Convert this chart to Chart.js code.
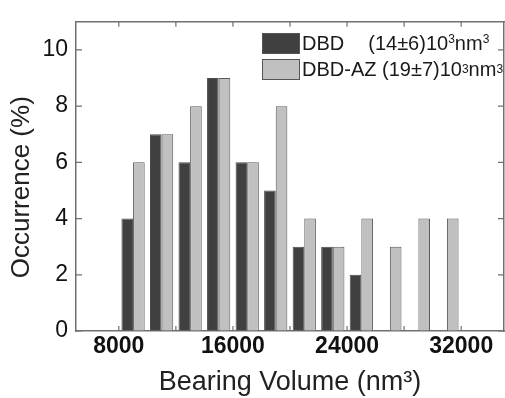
<!DOCTYPE html>
<html lang="en">
<head>
  <meta charset="UTF-8" />
  <title>Bearing Volume histogram</title>
  <script src="https://cdn.jsdelivr.net/npm/chart.js"></script>
  <style>
    body { margin: 0; background: #fff; }
    .wrap { position: relative; width: 505px; height: 398px; }
    .legend { position: absolute; left: 262px; top: 30px; font: 20px 'Liberation Sans', Arial, sans-serif; color: #1a1a1a; }
    .legend .row { display: flex; align-items: center; height: 26px; white-space: nowrap; }
    .legend .box { width: 36px; height: 19px; border: 1px solid #555; margin-right: 2px; }
    .legend sup { font-size: 60%; vertical-align: 0.55em; line-height: 0; }
  </style>
</head>
<body>
  <div class="wrap">
    <canvas id="chartBV" width="505" height="398"></canvas>
    <div class="legend">
      <div class="row"><span class="box" style="background:#404040"></span>DBD<span style="margin-left:24px">(14±6)10<sup>3</sup>nm<sup>3</sup></span></div>
      <div class="row"><span class="box" style="background:#c0c0c0"></span>DBD-AZ (19±7)10<sup>3</sup>nm<sup>3</sup></div>
    </div>
  </div>

  <script>
    // bin centres (nm^3) and occurrence (%)
    const binCentres = [9000, 11000, 13000, 15000, 17000, 19000, 21000, 23000, 25000, 27000, 29000, 31000];
    const dbd   = [4, 7, 6, 9, 6, 5, 3, 3, 2, null, null, null];
    const dbdAz = [6, 7, 8, 9, 6, 8, 4, 3, 4, 3, 4, 4];
    const xTicks = [8000, 12000, 16000, 20000, 24000, 28000, 32000];
    const xTickLabels = [8000, 16000, 24000, 32000];
    const yTickLabels = [0, 2, 4, 6, 8, 10];

    Chart.defaults.font.family = "'Liberation Sans', Arial, sans-serif";
    Chart.defaults.color = '#1a1a1a';

    const axisColor = '#707070';

    // Origin-style ticks pointing into the plot on all four sides
    const innerTicks = {
      id: 'innerTicks',
      afterDatasetsDraw(chart) {
        const { ctx, chartArea: a, scales: { x, y } } = chart;
        ctx.save();
        ctx.strokeStyle = axisColor;
        ctx.lineWidth = 1.2;
        ctx.beginPath();
        x.ticks.forEach(t => {
          const px = x.getPixelForValue(t.value);
          ctx.moveTo(px, a.bottom); ctx.lineTo(px, a.bottom - 5);
          ctx.moveTo(px, a.top); ctx.lineTo(px, a.top + 5);
        });
        y.ticks.forEach(t => {
          const py = y.getPixelForValue(t.value);
          const len = yTickLabels.includes(t.value) ? 6 : 3;
          ctx.moveTo(a.left, py); ctx.lineTo(a.left + len, py);
          ctx.moveTo(a.right, py); ctx.lineTo(a.right - len, py);
        });
        ctx.stroke();
        ctx.restore();
      }
    };

    const toPoints = arr => binCentres.map((c, i) => ({ x: c, y: arr[i] }));

    new Chart(document.getElementById('chartBV'), {
      type: 'bar',
      data: {
        datasets: [
          { label: 'DBD', data: toPoints(dbd), backgroundColor: '#404040', borderColor: '#4a4a4a', borderWidth: 1 },
          { label: 'DBD-AZ', data: toPoints(dbdAz), backgroundColor: '#c0c0c0', borderColor: '#5a5a5a', borderWidth: 1 }
        ]
      },
      options: {
        responsive: false,
        animation: false,
        events: [],
        layout: { padding: { top: 13, right: 1, left: 0, bottom: 0 } },
        datasets: { bar: { categoryPercentage: 0.815, barPercentage: 1.0 } },
        plugins: { legend: { display: false }, tooltip: { enabled: false } },
        scales: {
          x: {
            type: 'linear', min: 5000, max: 35000, offset: false,
            afterBuildTicks: s => { s.ticks = xTicks.map(v => ({ value: v })); },
            afterFit: s => { s.height = 67; },
            ticks: {
              padding: 2, maxRotation: 0, autoSkip: false,
              font: { size: 23, weight: 'bold' }, color: '#111',
              callback: v => xTickLabels.includes(v) ? String(v) : ''
            },
            grid: { drawOnChartArea: false, drawTicks: false },
            border: { display: true, color: axisColor, width: 1.5 },
            title: { display: true, text: 'Bearing Volume (nm³)', font: { size: 27 }, color: '#222', padding: { top: 0, bottom: -1 } }
          },
          x2: {
            type: 'linear', position: 'top', min: 5000, max: 35000, offset: false,
            afterFit: s => { s.height = 0; },
            ticks: { display: false },
            grid: { drawOnChartArea: false, drawTicks: false },
            border: { display: true, color: axisColor, width: 1.5 }
          },
          y: {
            min: 0, max: 11,
            afterFit: s => { s.width = 76; },
            ticks: {
              stepSize: 1, padding: 8,
              font: { size: 23 }, color: '#111',
              callback: v => yTickLabels.includes(v) ? String(v) : ''
            },
            grid: { drawOnChartArea: false, drawTicks: false },
            border: { display: true, color: axisColor, width: 1.5 },
            // trailing spaces nudge the rotated title a little lower, as in the original
            title: { display: true, text: 'Occurrence (%)   ', font: { size: 26 }, color: '#222', padding: { top: 6, bottom: 0 } }
          },
          y2: {
            position: 'right', min: 0, max: 11,
            afterFit: s => { s.width = 0; },
            ticks: { display: false },
            grid: { drawOnChartArea: false, drawTicks: false },
            border: { display: true, color: axisColor, width: 1.5 }
          }
        }
      },
      plugins: [innerTicks]
    });
  </script>
</body>
</html>
